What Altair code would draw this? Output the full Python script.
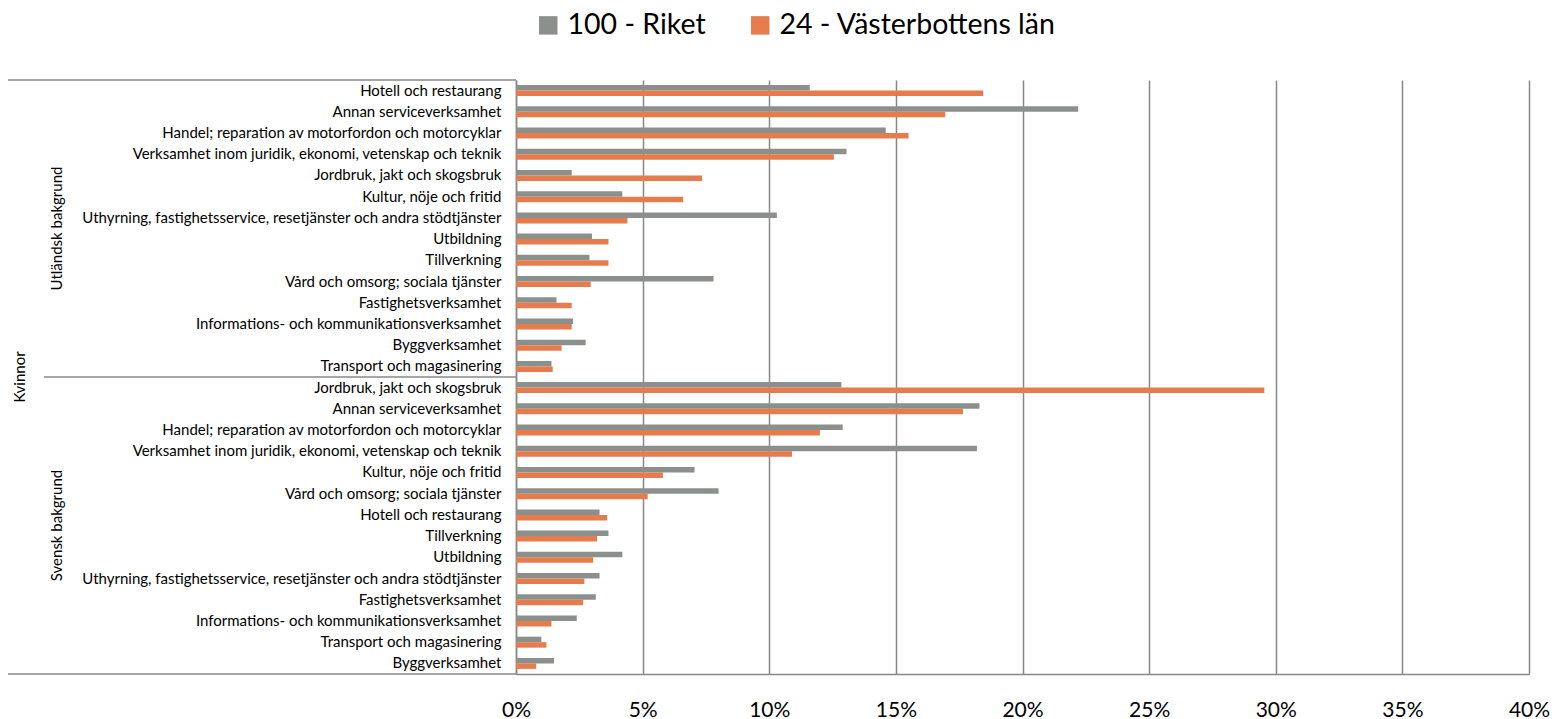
import altair as alt
import pandas as pd

series = ["100 - Riket", "24 - Västerbottens län"]
colors = ["#8C908D", "#E67C4E"]
groups = ["Utländsk bakgrund", "Svensk bakgrund"]
outer = "Kvinnor"

U_cats = ["Hotell och restaurang", "Annan serviceverksamhet",
          "Handel; reparation av motorfordon och motorcyklar",
          "Verksamhet inom juridik, ekonomi, vetenskap och teknik",
          "Jordbruk, jakt och skogsbruk", "Kultur, nöje och fritid",
          "Uthyrning, fastighetsservice, resetjänster och andra stödtjänster",
          "Utbildning", "Tillverkning", "Vård och omsorg; sociala tjänster",
          "Fastighetsverksamhet", "Informations- och kommunikationsverksamhet",
          "Byggverksamhet", "Transport och magasinering"]
U_riket = [11.6, 22.2, 14.6, 13.05, 2.2, 4.2, 10.3, 3.0, 2.9, 7.8, 1.6, 2.25, 2.75, 1.4]
U_vb = [18.45, 16.95, 15.5, 12.55, 7.35, 6.6, 4.4, 3.65, 3.65, 2.95, 2.2, 2.2, 1.8, 1.45]

S_cats = ["Jordbruk, jakt och skogsbruk", "Annan serviceverksamhet",
          "Handel; reparation av motorfordon och motorcyklar",
          "Verksamhet inom juridik, ekonomi, vetenskap och teknik",
          "Kultur, nöje och fritid", "Vård och omsorg; sociala tjänster",
          "Hotell och restaurang", "Tillverkning", "Utbildning",
          "Uthyrning, fastighetsservice, resetjänster och andra stödtjänster",
          "Fastighetsverksamhet", "Informations- och kommunikationsverksamhet",
          "Transport och magasinering", "Byggverksamhet"]
S_riket = [12.85, 18.3, 12.9, 18.2, 7.05, 8.0, 3.3, 3.65, 4.2, 3.3, 3.15, 2.4, 1.0, 1.5]
S_vb = [29.55, 17.65, 12.0, 10.9, 5.8, 5.2, 3.6, 3.2, 3.05, 2.7, 2.65, 1.4, 1.2, 0.8]

x_ticks = [0, 5, 10, 15, 20, 25, 30, 35, 40]

rows = []
keys = []
for g, cats, r, v in [(groups[0], U_cats, U_riket, U_vb), (groups[1], S_cats, S_riket, S_vb)]:
    for c, a, b in zip(cats, r, v):
        k = g + "|" + c
        keys.append(k)
        rows.append({"key": k, "series": series[0], "value": a})
        rows.append({"key": k, "series": series[1], "value": b})
df = pd.DataFrame(rows)

W, H = 1013, 594
FONT = "Lato"
LINE = "#888888"
CAT_FS = 15

yscale = alt.Scale(domain=keys, paddingInner=0, paddingOuter=0)
yaxis = alt.Axis(title=None, labelExpr="split(datum.value, '|')[1]", ticks=False,
                 labelPadding=15, labelFontSize=CAT_FS, labelFont=FONT, labelColor="#000000",
                 domainColor=LINE, domainWidth=1.5, labelLimit=0, grid=False)

bars = alt.Chart(df).mark_bar().encode(
    x=alt.X("value:Q", scale=alt.Scale(domain=[0, 40], nice=False),
            axis=alt.Axis(values=x_ticks, labelExpr="datum.value + '%'", title=None,
                          ticks=False, grid=True, gridColor=LINE, gridWidth=1.5,
                          domainColor=LINE, domainWidth=1.5, labelFont=FONT,
                          labelFontSize=21, labelPadding=25, labelColor="#000000",
                          labelFlush=False, labelOverlap=False)),
    y=alt.Y("key:N", scale=yscale, axis=yaxis),
    yOffset=alt.YOffset("series:N", scale=alt.Scale(domain=series, paddingOuter=0.93, paddingInner=0)),
    color=alt.Color("series:N", scale=alt.Scale(domain=series, range=colors),
                    legend=alt.Legend(title=None, orient="none", legendX=18, legendY=-69,
                                      direction="horizontal", symbolType="square",
                                      symbolSize=340, symbolStrokeWidth=0,
                                      labelFont=FONT, labelFontSize=28.5, labelColor="#000000",
                                      labelOffset=5, columnPadding=40, padding=0,
                                      labelLimit=0)),
)

grp_df = pd.DataFrame({"key": [keys[6], keys[20]], "label": groups})
grp_text = alt.Chart(grp_df).mark_text(angle=270, font=FONT, fontSize=CAT_FS, align="center",
                                       baseline="middle", color="#000000").encode(
    y=alt.Y("key:N", scale=yscale, axis=yaxis, bandPosition=1),
    x=alt.value(-459),
    text="label:N",
)

outer_text = alt.Chart(pd.DataFrame({"label": [outer]})).mark_text(
    angle=270, font=FONT, fontSize=CAT_FS, align="center", baseline="middle", color="#000000"
).encode(x=alt.value(-496), y=alt.value(H / 2), text="label:N")

top_rule = alt.Chart(pd.DataFrame({"key": [keys[0]]})).mark_rule(color=LINE, strokeWidth=1.5).encode(
    y=alt.Y("key:N", scale=yscale, axis=yaxis, bandPosition=0), x=alt.value(-508), x2=alt.value(0))
mid_rule = alt.Chart(pd.DataFrame({"key": [keys[13]]})).mark_rule(color=LINE, strokeWidth=1.5).encode(
    y=alt.Y("key:N", scale=yscale, axis=yaxis, bandPosition=1), x=alt.value(-472), x2=alt.value(0))
bot_rule = alt.Chart(pd.DataFrame({"key": [keys[-1]]})).mark_rule(color=LINE, strokeWidth=1.5).encode(
    y=alt.Y("key:N", scale=yscale, axis=yaxis, bandPosition=1), x=alt.value(-508), x2=alt.value(0))

chart = alt.layer(bars, grp_text, outer_text, top_rule, mid_rule, bot_rule).properties(
    width=W, height=H,
    autosize=alt.AutoSizeParams(type="none"),
    padding={"left": 508, "top": 72, "right": 24, "bottom": 60},
    background="white",
).configure_view(stroke=None)

chart.save("out.html", embed_options={"renderer": "svg", "actions": False})
